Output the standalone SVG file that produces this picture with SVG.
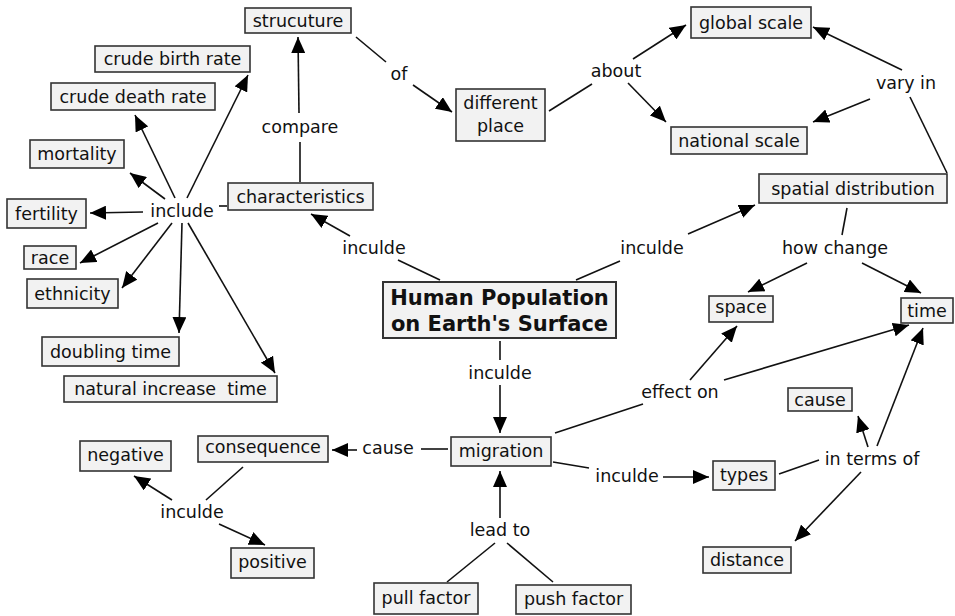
<svg xmlns="http://www.w3.org/2000/svg" width="955" height="616" viewBox="0 0 955 616">
<style>
text{font-family:"DejaVu Sans","Verdana",sans-serif;font-size:17.5px;fill:#111;text-anchor:middle;dominant-baseline:central;white-space:pre}
.box{fill:#f2f2f2;stroke:#333;stroke-width:1.6}
.main{fill:#f2f2f2;stroke:#333;stroke-width:2}
.title{font-weight:bold;font-size:21px}
.c line{stroke:#111;stroke-width:1.6}
.a{marker-end:url(#arr)}
</style>
<defs>
<marker id="arr" markerUnits="userSpaceOnUse" markerWidth="17" markerHeight="14" refX="16" refY="7" orient="auto">
<path d="M0,0 L16,7 L0,14 Z" fill="#000"/>
</marker>
</defs>
<rect width="955" height="616" fill="#fff"/>
<g class="c" id="connectors">
<line x1="187" y1="198" x2="248" y2="75" class="a"/>
<line x1="175" y1="198" x2="135" y2="115" class="a"/>
<line x1="165" y1="199" x2="130" y2="173" class="a"/>
<line x1="143" y1="212" x2="90" y2="213" class="a"/>
<line x1="158" y1="223" x2="80" y2="263" class="a"/>
<line x1="172" y1="223" x2="122" y2="288" class="a"/>
<line x1="182" y1="223" x2="179" y2="333" class="a"/>
<line x1="188" y1="223" x2="275" y2="373" class="a"/>
<line x1="219" y1="206" x2="227" y2="206"/>
<line x1="300" y1="182" x2="300" y2="142"/>
<line x1="299" y1="113" x2="298" y2="37" class="a"/>
<line x1="356" y1="37" x2="386" y2="62"/>
<line x1="413" y1="85" x2="452" y2="112" class="a"/>
<line x1="549" y1="111" x2="592" y2="84"/>
<line x1="633" y1="59" x2="686" y2="25" class="a"/>
<line x1="628" y1="83" x2="666" y2="122" class="a"/>
<line x1="902" y1="70" x2="813" y2="27" class="a"/>
<line x1="870" y1="99" x2="813" y2="122" class="a"/>
<line x1="947" y1="173" x2="910" y2="97"/>
<line x1="440" y1="280" x2="398" y2="260"/>
<line x1="350" y1="236" x2="311" y2="214" class="a"/>
<line x1="576" y1="280" x2="620" y2="261"/>
<line x1="688" y1="234" x2="755" y2="205" class="a"/>
<line x1="847" y1="208" x2="842" y2="235"/>
<line x1="807" y1="263" x2="748" y2="292" class="a"/>
<line x1="862" y1="263" x2="921" y2="293" class="a"/>
<line x1="500" y1="341" x2="500" y2="360"/>
<line x1="500" y1="385" x2="500" y2="433" class="a"/>
<line x1="555" y1="433" x2="643" y2="404"/>
<line x1="690" y1="380" x2="737" y2="326" class="a"/>
<line x1="724" y1="380" x2="909" y2="325" class="a"/>
<line x1="553" y1="462" x2="589" y2="468"/>
<line x1="663" y1="477" x2="709" y2="477" class="a"/>
<line x1="779" y1="474" x2="819" y2="460"/>
<line x1="868" y1="447" x2="858" y2="416" class="a"/>
<line x1="877" y1="446" x2="923" y2="328" class="a"/>
<line x1="861" y1="472" x2="795" y2="541" class="a"/>
<line x1="500" y1="518" x2="500" y2="471" class="a"/>
<line x1="447" y1="582" x2="495" y2="543"/>
<line x1="553" y1="582" x2="507" y2="543"/>
<line x1="421" y1="449" x2="448" y2="449"/>
<line x1="357" y1="450" x2="332" y2="450" class="a"/>
<line x1="243" y1="467" x2="206" y2="500"/>
<line x1="172" y1="500" x2="134" y2="476" class="a"/>
<line x1="219" y1="524" x2="265" y2="545" class="a"/>
</g>
<g id="labels">
<text x="182" y="211">include</text>
<text x="300" y="127">compare</text>
<text x="399" y="74">of</text>
<text x="616" y="71">about</text>
<text x="906" y="83">vary in</text>
<text x="374" y="248">inculde</text>
<text x="652" y="248">inculde</text>
<text x="835" y="248">how change</text>
<text x="500" y="373">inculde</text>
<text x="680" y="392">effect on</text>
<text x="388" y="448">cause</text>
<text x="627" y="476">inculde</text>
<text x="872" y="459">in terms of</text>
<text x="500" y="530">lead to</text>
<text x="192" y="512">inculde</text>
</g>
<g id="n-human"><rect class="main" x="383" y="282" width="233" height="56"/><text class="title" x="499.5" y="298">Human Population</text><text class="title" x="499.5" y="324">on Earth's Surface</text></g>
<g id="n-structure"><rect class="box" x="245" y="8" width="106" height="25"/><text x="298" y="20.5">strucuture</text></g>
<g id="n-cbr"><rect class="box" x="95" y="46" width="155" height="26"/><text x="172.5" y="59">crude birth rate</text></g>
<g id="n-cdr"><rect class="box" x="51" y="83" width="164" height="27"/><text x="133" y="96.5">crude death rate</text></g>
<g id="n-mortality"><rect class="box" x="30" y="140" width="94" height="28"/><text x="77" y="154">mortality</text></g>
<g id="n-fertility"><rect class="box" x="7" y="199" width="79" height="29"/><text x="46.5" y="213.5">fertility</text></g>
<g id="n-race"><rect class="box" x="24" y="246" width="52" height="23"/><text x="50" y="257.5">race</text></g>
<g id="n-ethnicity"><rect class="box" x="27" y="279" width="91" height="29"/><text x="72.5" y="293.5">ethnicity</text></g>
<g id="n-doubling"><rect class="box" x="42" y="337" width="137" height="29"/><text x="110.5" y="351.5">doubling time</text></g>
<g id="n-natural"><rect class="box" x="64" y="376" width="213" height="26"/><text x="170.5" y="389">natural increase  time</text></g>
<g id="n-characteristics"><rect class="box" x="228" y="183" width="145" height="27"/><text x="300.5" y="196.5">characteristics</text></g>
<g id="n-different"><rect class="box" x="456" y="89" width="89" height="52"/><text x="500.5" y="103">different</text><text x="500.5" y="126">place</text></g>
<g id="n-global"><rect class="box" x="691" y="7" width="120" height="31"/><text x="751" y="22.5">global scale</text></g>
<g id="n-national"><rect class="box" x="671" y="127" width="136" height="27"/><text x="739" y="140.5">national scale</text></g>
<g id="n-spatial"><rect class="box" x="759" y="174" width="188" height="29"/><text x="853" y="188.5">spatial distribution</text></g>
<g id="n-space"><rect class="box" x="709" y="296" width="64" height="26"/><text x="741" y="307">space</text></g>
<g id="n-time"><rect class="box" x="901" y="298" width="52" height="25"/><text x="927" y="310.5">time</text></g>
<g id="n-cause"><rect class="box" x="788" y="388" width="64" height="23"/><text x="820" y="399.5">cause</text></g>
<g id="n-types"><rect class="box" x="713" y="461" width="62" height="29"/><text x="744" y="475">types</text></g>
<g id="n-distance"><rect class="box" x="703" y="547" width="88" height="26"/><text x="747" y="560">distance</text></g>
<g id="n-migration"><rect class="box" x="451" y="437" width="100" height="29"/><text x="501" y="450.5">migration</text></g>
<g id="n-consequence"><rect class="box" x="198" y="436" width="130" height="26"/><text x="263" y="447">consequence</text></g>
<g id="n-negative"><rect class="box" x="80" y="441" width="91" height="30"/><text x="125.5" y="455">negative</text></g>
<g id="n-positive"><rect class="box" x="231" y="548" width="83" height="30"/><text x="272.5" y="562">positive</text></g>
<g id="n-pull"><rect class="box" x="374" y="583" width="104" height="31"/><text x="426" y="598">pull factor</text></g>
<g id="n-push"><rect class="box" x="516" y="585" width="115" height="29"/><text x="573.5" y="599">push factor</text></g>
</svg>
